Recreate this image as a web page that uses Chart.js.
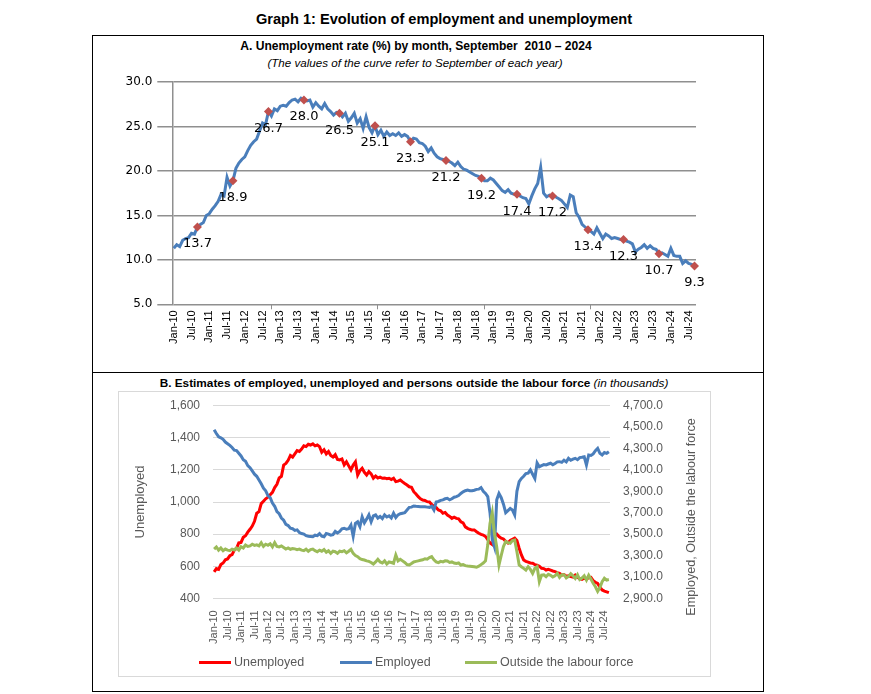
<!DOCTYPE html>
<html lang="en">
<head>
  <meta charset="UTF-8">
  <title>Graph 1: Evolution of employment and unemployment</title>
  <!-- Chart.js -->
  <script src="https://cdn.jsdelivr.net/npm/chart.js"></script>
  <style>
    body { margin: 0; background: #fff; font-family: "Liberation Sans", Arial, sans-serif; }
    #page { position: relative; width: 871px; height: 694px; overflow: hidden; }
    #frame { position: absolute; left: 92px; top: 35px; width: 672px; height: 657px; border: 1px solid #000; box-sizing: border-box; }
    #divider { position: absolute; left: 92px; top: 372px; width: 672px; height: 1px; background: #000; }
    .head { position: absolute; text-align: center; white-space: nowrap; color: #000; }
    #mainTitle { left: 44px; width: 800px; top: 11px; font-size: 14.6px; font-weight: bold; }
    #titleA { left: 16px; width: 800px; top: 39px; font-size: 12.1px; font-weight: bold; }
    #noteA { left: 15px; width: 800px; top: 56px; font-size: 11.6px; font-style: italic; }
    #titleB { left: 14px; width: 800px; top: 376px; font-size: 11.8px; font-weight: bold; }
    #titleB i { font-weight: normal; }
    #wrapA { position: absolute; left: 93px; top: 70px; width: 669px; height: 301px; }
    #wrapB { position: absolute; left: 118px; top: 391px; width: 593px; height: 286px; border: 1px solid #d9d9d9; box-sizing: border-box; }
    #chartB { position: absolute; left: 118px; top: 391px; width: 593px; height: 286px; }
    .leg { position: absolute; top: 654px; height: 16px; display: flex; align-items: center; font-size: 12.5px; color: #595959; white-space: nowrap; }
    .leg .sw { display: inline-block; width: 32px; height: 3px; margin-right: 3px; }
  </style>
</head>
<body>
<div id="page">
  <div id="frame"></div>
  <div id="divider"></div>
  <div class="head" id="mainTitle">Graph 1: Evolution of employment and unemployment</div>
  <div class="head" id="titleA">A. Unemployment rate (%) by month, September&nbsp; 2010 – 2024</div>
  <div class="head" id="noteA">(<i>The values of the curve refer to September of each year</i>)</div>
  <div class="head" id="titleB">B. Estimates of employed, unemployed and persons outside the labour force <i>(in thousands)</i></div>

  <div id="wrapA"><canvas id="chartA" width="669" height="301"></canvas></div>
  <div id="wrapB"></div>
  <div id="chartB"><canvas id="canvasB" width="593" height="286"></canvas></div>
  <div id="legendB"></div>
</div>

<script>
  // months Jan-10 .. Sep-24
  const monthNames = ['Jan', 'Feb', 'Mar', 'Apr', 'May', 'Jun', 'Jul', 'Aug', 'Sep', 'Oct', 'Nov', 'Dec'];
  const categories = [];
  for (let y = 2010; y <= 2024; y++) {
    for (let i = 0; i < 12; i++) {
      if (y === 2024 && i > 8) break;
      categories.push(monthNames[i] + '-' + String(y).slice(2));
    }
  }

  // A. unemployment rate (%), one row per year
  const unemploymentRate = [
    11.3, 11.7, 11.5, 12.2, 12.4, 12.5, 13.0, 12.9, 13.7, 14.0, 14.2, 15.0,
    15.2, 15.7, 16.1, 16.6, 17.4, 17.2, 19.3, 18.3, 18.9, 20.3, 20.9, 21.3,
    21.6, 22.3, 22.9, 23.3, 23.6, 24.5, 25.4, 25.2, 26.7, 26.2, 27.0, 26.8,
    27.3, 27.4, 27.3, 27.7, 28.0, 28.1, 27.8, 28.2, 28.0, 27.9, 28.0, 27.2,
    27.7, 27.3, 27.0, 27.6, 27.0, 26.7, 26.3, 26.6, 26.5, 26.1, 26.5, 25.6,
    26.0, 26.5, 25.4, 25.9, 24.8, 26.1, 24.9, 24.3, 25.1, 24.1, 24.6, 23.9,
    24.4, 24.0, 24.2, 24.0, 24.3, 23.9, 24.1, 23.9, 23.3, 23.7, 23.6, 23.2,
    23.1, 22.8, 22.2, 22.6, 22.0, 21.6, 21.4, 21.3, 21.2, 21.1, 20.9, 20.6,
    21.0, 20.5, 20.2, 20.1, 19.9, 19.7, 19.5, 19.4, 19.2, 18.9, 18.9, 19.2,
    19.0, 18.6, 18.2, 17.8, 17.6, 17.9, 17.5, 17.4, 17.4, 17.2, 17.0, 16.9,
    16.3, 17.2, 18.0, 18.6, 20.4, 17.5, 17.1, 17.3, 17.2, 17.1, 16.9, 16.7,
    16.3, 15.9, 17.3, 17.1, 15.3, 14.8, 14.0, 13.7, 13.4, 13.2, 12.9, 13.6,
    13.0, 12.4, 12.9, 12.7, 12.4, 12.5, 12.4, 12.3, 12.3, 12.1, 12.0, 11.8,
    10.9, 11.2, 11.4, 11.7, 11.3, 11.6, 11.3, 11.2, 10.7, 10.8, 10.6, 10.4,
    11.3, 10.5, 10.4, 10.4, 9.6, 9.9, 9.6, 9.5, 9.3
  ];

  // B. thousands of persons
  const unemployed = [
    565, 585, 580, 610, 620, 640, 645, 665, 672, 700, 712, 745,
    748, 780, 790, 812, 830, 850, 880, 930, 940, 990, 1005, 1020,
    1030, 1045, 1060, 1090, 1110, 1150, 1160, 1230, 1240, 1260, 1290, 1280,
    1300, 1320, 1315, 1330, 1350, 1345, 1360, 1355, 1362, 1350, 1355, 1345,
    1310, 1325, 1300, 1315, 1290, 1280, 1295, 1265, 1262, 1268, 1231, 1250,
    1225, 1200, 1230, 1250, 1168, 1195, 1210, 1185, 1168, 1189, 1175, 1148,
    1162, 1150, 1155, 1148, 1150, 1145, 1148, 1140, 1148, 1127, 1130, 1137,
    1125, 1115, 1106, 1095, 1092, 1064, 1050, 1033, 1020, 1012, 1010, 1002,
    1000, 985, 971, 965, 950, 945, 930, 935, 919, 910, 898, 905,
    898, 895, 877, 870, 845, 836, 830, 825, 826, 815, 805, 798,
    794, 785, 765, 745, 735, 790, 800, 785, 775, 770, 755, 745,
    760, 768, 775, 760, 712, 670, 639, 630, 625, 620, 618, 610,
    607, 600, 587, 585, 576, 580, 575, 570, 566, 560, 555, 545,
    548, 538, 540, 535, 532, 545, 530, 522, 518, 525, 520, 528,
    530, 510, 500, 493, 470, 452, 445, 440, 435
  ];

  const employed = [
    4475, 4440, 4410, 4400, 4385, 4360, 4345, 4330, 4310, 4285, 4280, 4255,
    4230, 4195, 4180, 4140, 4120, 4090, 4060, 4040, 4005, 3970, 3930, 3905,
    3860, 3840, 3790, 3760, 3710, 3690, 3650, 3630, 3590, 3580, 3555, 3550,
    3535, 3540, 3515, 3505, 3500, 3485, 3480, 3478, 3476, 3490, 3485, 3505,
    3480, 3475, 3505, 3500, 3490, 3495, 3525, 3510, 3525, 3550, 3555, 3545,
    3550, 3585, 3480, 3600, 3615, 3570, 3660, 3605, 3640, 3680, 3615, 3670,
    3680, 3650, 3665, 3645, 3680, 3660, 3670, 3650, 3695, 3655, 3680, 3690,
    3695, 3700, 3725, 3750, 3752, 3763, 3760, 3758, 3756, 3755, 3756, 3752,
    3750, 3760, 3725, 3800, 3805, 3815, 3820, 3830, 3835, 3820, 3830, 3845,
    3850, 3860, 3880, 3895, 3905, 3912, 3905, 3906, 3910, 3918, 3920, 3935,
    3900, 3880, 3850, 3700, 3450, 3380, 3820, 3880, 3840, 3780, 3700, 3720,
    3740, 3725, 3680, 3900, 3990, 4020, 4040, 4065, 4070, 4100, 4060, 4020,
    4165, 4130, 4140, 4150, 4146, 4155, 4162, 4148, 4160, 4175, 4177, 4170,
    4190, 4175, 4208, 4190, 4200, 4208, 4195, 4215, 4218, 4223, 4146, 4239,
    4235, 4250, 4280, 4302, 4255, 4240, 4262, 4255, 4270
  ];

  const outsideLabourForce = [
    3360, 3380, 3350, 3370, 3345, 3360, 3350, 3345, 3360, 3352, 3370, 3350,
    3382, 3370, 3398, 3385, 3390, 3405, 3395, 3400, 3390, 3420, 3385, 3405,
    3395, 3410, 3380, 3420, 3385, 3380, 3390, 3375, 3360, 3370, 3358, 3365,
    3362, 3355, 3360, 3350, 3345, 3360, 3340, 3355, 3360, 3345, 3335, 3350,
    3340, 3355, 3330, 3345, 3320, 3340, 3335, 3320, 3340, 3336, 3345, 3325,
    3340, 3358, 3320, 3300, 3289, 3270, 3262, 3258, 3250, 3245, 3235, 3220,
    3240, 3264, 3240, 3230, 3250, 3220, 3240, 3235, 3228, 3305, 3250, 3265,
    3250, 3235, 3215, 3212, 3225, 3240, 3245, 3250, 3255, 3260, 3270, 3265,
    3280, 3290, 3260, 3240, 3233, 3245, 3240, 3250, 3248, 3235, 3240, 3230,
    3225, 3230, 3211, 3215, 3205, 3202, 3200, 3198, 3195, 3190, 3200, 3215,
    3230, 3250, 3400, 3600, 3700, 3500, 3380, 3211, 3300, 3385, 3430, 3420,
    3414, 3440, 3445, 3336, 3211, 3195, 3180, 3164, 3195, 3170, 3133, 3180,
    3195, 3055, 3117, 3120, 3102, 3125, 3115, 3100, 3110, 3133, 3095, 3120,
    3120, 3090, 3105, 3130, 3110, 3085, 3120, 3075, 3090, 3110, 3070, 3115,
    3080, 3040, 3008, 2965, 3000, 3055, 3087, 3070, 3075
  ];

  const rateTicks = { min: 5, max: 30, step: 5 };
  const leftTicks = { min: 400, max: 1600, step: 200 };
  const rightTicks = { min: 2900, max: 4700, step: 200 };

  Chart.defaults.font.family = '"Liberation Sans", Arial, sans-serif';
  Chart.defaults.animation = false;

  // only every 6th month gets a label
  function halfYearLabel(value, index) {
    return index % 6 === 0 ? categories[index] : null;
  }

  // September markers (the labelled points)
  const septemberPoints = unemploymentRate.map((v, i) => (i % 12 === 8 ? v : null));

  const septemberLabels = {
    id: 'septemberLabels',
    afterDatasetsDraw(chart) {
      const meta = chart.getDatasetMeta(1);
      const ctx = chart.ctx;
      ctx.save();
      ctx.font = '13px "DejaVu Sans"';
      ctx.fillStyle = '#000';
      ctx.textAlign = 'center';
      ctx.textBaseline = 'middle';
      meta.data.forEach((pt, i) => {
        const v = septemberPoints[i];
        if (v === null) return;
        ctx.fillText(v.toFixed(1), pt.x, pt.y + 17);
      });
      ctx.restore();
    }
  };

  new Chart(document.getElementById('chartA'), {
    type: 'line',
    data: {
      labels: categories,
      datasets: [{
        label: 'Unemployment rate',
        data: unemploymentRate,
        borderColor: '#4a7ebb',
        borderWidth: 3,
        pointRadius: 0,
        tension: 0,
        order: 2
      }, {
        label: 'September',
        data: septemberPoints,
        showLine: false,
        pointStyle: 'rectRot',
        pointRadius: 4.5,
        pointBackgroundColor: '#c0504d',
        pointBorderColor: '#c0504d',
        pointBorderWidth: 0,
        order: 1
      }]
    },
    options: {
      responsive: false,
      layout: { padding: { top: 12, right: 66, bottom: 0, left: 0 } },
      plugins: { legend: { display: false }, tooltip: { enabled: false } },
      scales: {
        x: {
          offset: true,
          grid: {
            offset: true,
            drawOnChartArea: false,
            tickLength: 5,
            color: ctx => (ctx.index % 6 === 0 ? '#8f8f8f' : 'rgba(0,0,0,0)')
          },
          border: { display: false },
          ticks: {
            autoSkip: false, maxRotation: 90, minRotation: 90, padding: 1,
            color: '#000', font: { size: 11 },
            callback: halfYearLabel
          },
          afterFit: s => { s.height = 66.7; }
        },
        y: {
          min: rateTicks.min, max: rateTicks.max,
          grid: { color: '#8f8f8f', lineWidth: 1.5, tickLength: 15 },
          border: { display: true, color: '#8f8f8f', width: 1.5 },
          ticks: {
            stepSize: rateTicks.step, padding: 5, color: '#000',
            font: { family: '"DejaVu Sans"', size: 12 },
            callback: v => v.toFixed(1)
          },
          afterFit: s => { s.width = 79.3; }
        }
      }
    },
    plugins: [septemberLabels]
  });

  // right axis title reads bottom-to-top, drawn by hand
  const rightAxisTitle = {
    id: 'rightAxisTitle',
    afterDraw(chart) {
      const ctx = chart.ctx;
      ctx.save();
      ctx.translate(chart.width - 19, 126);
      ctx.rotate(-Math.PI / 2);
      ctx.font = '12.6px "Liberation Sans"';
      ctx.fillStyle = '#595959';
      ctx.textAlign = 'center';
      ctx.textBaseline = 'middle';
      ctx.fillText('Employed, Outside the labour force', 0, 0);
      ctx.restore();
    }
  };

  const seriesB = [
    { label: 'Unemployed', data: unemployed, axis: 'y', color: '#ff0000', order: 3 },
    { label: 'Employed', data: employed, axis: 'y2', color: '#4a7ebb', order: 2 },
    { label: 'Outside the labour force', data: outsideLabourForce, axis: 'y2', color: '#9bbb59', order: 1 }
  ];

  new Chart(document.getElementById('canvasB'), {
    type: 'line',
    data: {
      labels: categories,
      datasets: seriesB.map(s => ({
        label: s.label,
        data: s.data,
        yAxisID: s.axis,
        borderColor: s.color,
        backgroundColor: s.color,
        borderWidth: 3,
        pointRadius: 0,
        order: s.order
      }))
    },
    options: {
      responsive: false,
      layout: { padding: { top: 14.7, right: 0, bottom: 0, left: 0 } },
      plugins: { tooltip: { enabled: false }, legend: { display: false } },
      scales: {
        x: {
          offset: true,
          grid: { display: false },
          border: { display: false },
          ticks: {
            autoSkip: false, maxRotation: 90, minRotation: 90, padding: 4,
            color: '#595959', font: { size: 11 },
            callback: halfYearLabel
          },
          afterFit: s => { s.height = 78.7; }
        },
        y: {
          position: 'left',
          min: leftTicks.min, max: leftTicks.max,
          grid: { color: '#d9d9d9', lineWidth: 1, drawTicks: true, tickLength: 13, tickColor: 'rgba(0,0,0,0)' },
          border: { display: false },
          ticks: {
            stepSize: leftTicks.step, padding: 0, color: '#595959', font: { size: 12 },
            callback: v => v.toLocaleString('en-US')
          },
          title: {
            display: true, text: 'Unemployed', color: '#595959',
            font: { size: 13 }, padding: { top: 15, bottom: 0 }
          },
          afterFit: s => { s.width = 95; }
        },
        y2: {
          position: 'right',
          min: rightTicks.min, max: rightTicks.max,
          grid: { drawOnChartArea: false, drawTicks: true, tickLength: 13, tickColor: 'rgba(0,0,0,0)' },
          border: { display: false },
          ticks: {
            stepSize: rightTicks.step, padding: 0, color: '#595959', font: { size: 12 },
            callback: v => v.toLocaleString('en-US', { minimumFractionDigits: 1, maximumFractionDigits: 1 })
          },
          afterFit: s => { s.width = 101; }
        }
      }
    },
    plugins: [rightAxisTitle]
  });

  // legend for chart B
  const legendLeft = [199, 340, 465];
  const legendBox = document.getElementById('legendB');
  seriesB.forEach((s, i) => {
    const item = document.createElement('div');
    item.className = 'leg';
    item.style.left = legendLeft[i] + 'px';
    const sw = document.createElement('span');
    sw.className = 'sw';
    sw.style.background = s.color;
    item.appendChild(sw);
    item.appendChild(document.createTextNode(s.label));
    legendBox.appendChild(item);
  });
</script>
</body>
</html>
